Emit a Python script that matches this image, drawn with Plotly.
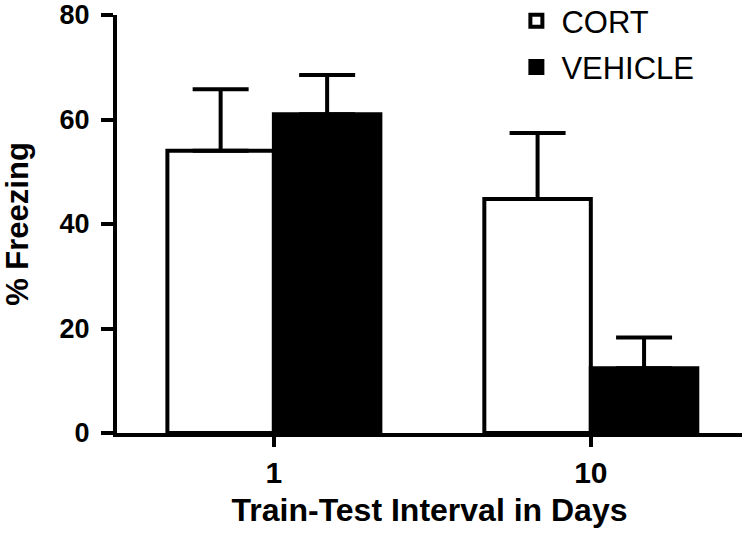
import plotly.graph_objects as go

categories = ["1", "10"]
cort_mean = [54.0, 44.8]
cort_sem = [11.8, 12.6]
vehicle_mean = [61.0, 12.4]
vehicle_sem = [7.5, 5.9]
y_ticks = [0, 20, 40, 60, 80]

FONT = "Liberation Sans, Arial, sans-serif"

fig = go.Figure()
fig.add_trace(go.Bar(
    name="CORT", x=categories, y=cort_mean,
    marker=dict(color="white", line=dict(color="black", width=4)),
    error_y=dict(type="data", symmetric=False, array=cort_sem, arrayminus=[0, 0],
                 color="black", thickness=4, width=28),
    legendgroup="a",
))
fig.add_trace(go.Bar(
    name="VEHICLE", x=categories, y=vehicle_mean,
    marker=dict(color="black", line=dict(color="black", width=4)),
    error_y=dict(type="data", symmetric=False, array=vehicle_sem, arrayminus=[0, 0],
                 color="black", thickness=4, width=28),
    legendgroup="b",
))

fig.update_layout(
    width=751, height=547,
    margin=dict(l=117, r=9, t=15, b=114, autoexpand=False),
    paper_bgcolor="white", plot_bgcolor="white",
    barmode="group", bargap=0.328, bargroupgap=0,
    font=dict(family=FONT, color="black"),
    showlegend=True,
    legend=dict(x=0.631, y=1.05, xanchor="left", yanchor="top",
                font=dict(size=31, family=FONT, color="black"),
                bgcolor="rgba(0,0,0,0)", traceorder="grouped", tracegroupgap=3,
                itemwidth=40),
    xaxis=dict(
        type="category", range=[-0.495, 1.477], automargin=False,
        showline=True, linecolor="black", linewidth=4,
        ticks="outside", ticklen=10, tickwidth=4, tickcolor="black",
        tickfont=dict(size=30, weight="bold"),
        showgrid=False, zeroline=False,
        title=dict(text="<b>Train-Test Interval in Days</b>", font=dict(size=32), standoff=12),
    ),
    yaxis=dict(
        range=[0, 80], tickvals=y_ticks, automargin=False,
        showline=True, linecolor="black", linewidth=4,
        ticks="outside", ticklen=12, tickwidth=4, tickcolor="black",
        tickfont=dict(size=27, weight="bold"), ticklabelstandoff=6,
        showgrid=False, zeroline=False,
        title=dict(text="<b>% Freezing</b>", font=dict(size=31), standoff=38),
    ),
)

fig.write_html("out.html", config={"displayModeBar": False},
               post_script="document.body.style.margin='0px';")
